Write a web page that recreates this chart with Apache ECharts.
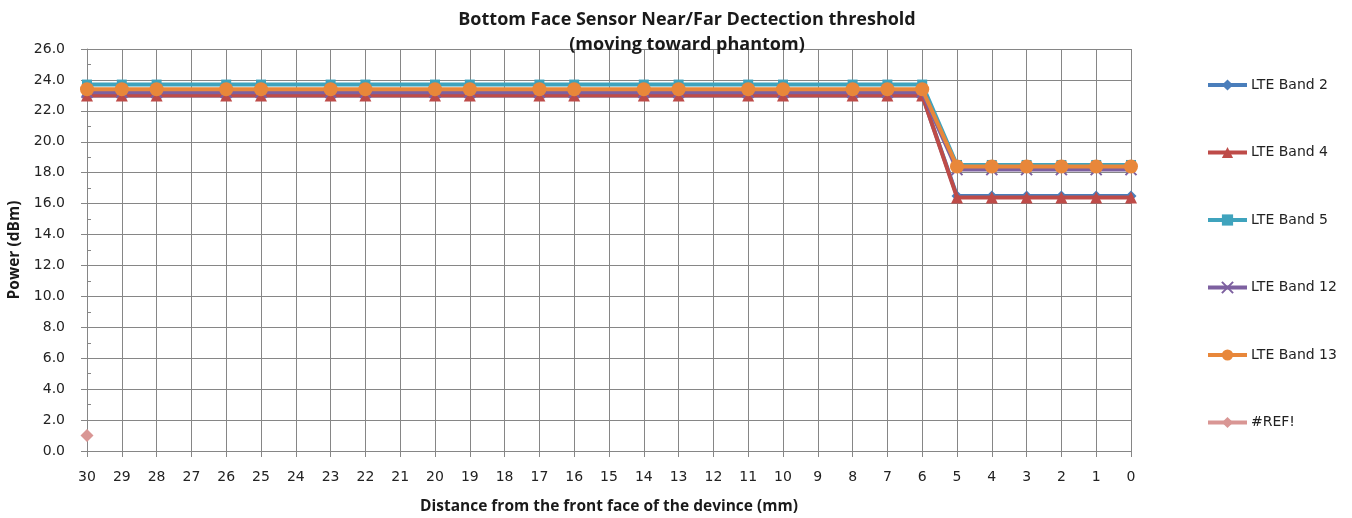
<!DOCTYPE html>
<html><head><meta charset="utf-8">
<script src="https://cdn.jsdelivr.net/npm/echarts@6/dist/echarts.min.js"></script>
<style>html,body{margin:0;padding:0;background:#fff}#c{width:1352px;height:518px}</style>
</head><body><div id="c"></div>
<script>
const categories = ['30','29','28','27','26','25','24','23','22','21','20','19','18','17','16','15','14','13','12','11','10','9','8','7','6','5','4','3','2','1','0'];
const N = null;
const band2  = [23.0,23.0,23.0,N,23.0,23.0,N,23.0,23.0,N,23.0,23.0,N,23.0,23.0,N,23.0,23.0,N,23.0,23.0,N,23.0,23.0,23.0,16.5,16.5,16.5,16.5,16.5,16.5];
const band4  = [23.0,23.0,23.0,N,23.0,23.0,N,23.0,23.0,N,23.0,23.0,N,23.0,23.0,N,23.0,23.0,N,23.0,23.0,N,23.0,23.0,23.0,16.4,16.4,16.4,16.4,16.4,16.4];
const band5  = [23.7,23.7,23.7,N,23.7,23.7,N,23.7,23.7,N,23.7,23.7,N,23.7,23.7,N,23.7,23.7,N,23.7,23.7,N,23.7,23.7,23.7,18.5,18.5,18.5,18.5,18.5,18.5];
const band12 = [23.2,23.2,23.2,N,23.2,23.2,N,23.2,23.2,N,23.2,23.2,N,23.2,23.2,N,23.2,23.2,N,23.2,23.2,N,23.2,23.2,23.2,18.2,18.2,18.2,18.2,18.2,18.2];
const band13 = [23.4,23.4,23.4,N,23.4,23.4,N,23.4,23.4,N,23.4,23.4,N,23.4,23.4,N,23.4,23.4,N,23.4,23.4,N,23.4,23.4,23.4,18.4,18.4,18.4,18.4,18.4,18.4];
const refSeries = [1.0,N,N,N,N,N,N,N,N,N,N,N,N,N,N,N,N,N,N,N,N,N,N,N,N,N,N,N,N,N,N];
const seriesNames = ['LTE Band 2','LTE Band 4','LTE Band 5','LTE Band 12','LTE Band 13','#REF!'];
const seriesData = [band2, band4, band5, band12, band13, refSeries];
const colors = ['#4A7EBB','#BE4B48','#3FA3BD','#7D60A0','#E8873A','#D99694'];
const symbols = ['diamond','triangle','rect','path://M0,0 L10,10 M10,0 L0,10','circle','diamond'];
const sizes = [11,12,10,11,14,13];
const yTicks = ['0.0','2.0','4.0','6.0','8.0','10.0','12.0','14.0','16.0','18.0','20.0','22.0','24.0','26.0'];

const chart = echarts.init(document.getElementById('c'));
const font = 'DejaVu Sans';
chart.setOption({
  animation:false,
  title:{text:'Bottom Face Sensor Near/Far Dectection threshold\n(moving toward phantom)',
    left:682, top:2, textAlign:'center',
    textStyle:{fontFamily:'Open Sans',fontWeight:'bold',fontSize:18,color:'#1a1a1a',lineHeight:25}},
  grid:{left:87,right:221,top:49,bottom:67,containLabel:false,outerBoundsMode:'none'},
  legend:{orient:'vertical',left:1201,top:73,itemGap:53.5,itemWidth:39,itemHeight:14,
    lineStyle:{width:4},
    textStyle:{fontFamily:font,fontSize:14,color:'#222',padding:[0,0,0,-1]},data:seriesNames},
  xAxis:{type:'category',data:categories,boundaryGap:false,
    name:'Distance from the front face of the devince (mm)',nameLocation:'middle',nameGap:48,
    nameTextStyle:{fontFamily:'Open Sans',fontWeight:'bold',fontSize:15.5,color:'#1a1a1a'},
    axisLine:{lineStyle:{color:'#868686',width:1}},
    axisTick:{show:true,interval:0,length:6,lineStyle:{color:'#868686'}},
    axisLabel:{interval:0,fontFamily:font,fontSize:14,color:'#222',margin:19},
    splitLine:{show:true,interval:0,lineStyle:{color:'#868686',width:1}}},
  yAxis:[{type:'value',min:0,max:26,interval:2,
    name:'Power (dBm)',nameLocation:'middle',nameGap:58,nameRotate:90,
    nameTextStyle:{fontFamily:'Open Sans',fontWeight:'bold',fontSize:15.5,color:'#1a1a1a'},
    axisLine:{show:true,lineStyle:{color:'#868686'}},
    axisTick:{show:true,length:6,lineStyle:{color:'#868686'}},
    axisLabel:{fontFamily:font,fontSize:14,color:'#222',margin:22,
      formatter:function(v){return yTicks[Math.round(v/2)];}},
    splitLine:{show:true,lineStyle:{color:'#868686',width:1}}},
   {type:'value',min:0,max:26,interval:2,position:'left',
    axisLine:{show:false},axisLabel:{show:false},splitLine:{show:false},
    axisTick:{show:false,inside:true},
    minorTick:{show:true,splitNumber:2,length:4,lineStyle:{color:'#868686'}}}],
  series:seriesData.map(function(d,i){return {
    name:seriesNames[i],type:'line',data:d,connectNulls:true,
    symbol:symbols[i],symbolSize:sizes[i],showSymbol:true,
    lineStyle:{color:colors[i],width:4},
    itemStyle:{color:colors[i],borderColor:colors[i],borderWidth:i===3?2:0},
    z:2+i};})
});
</script></body></html>
